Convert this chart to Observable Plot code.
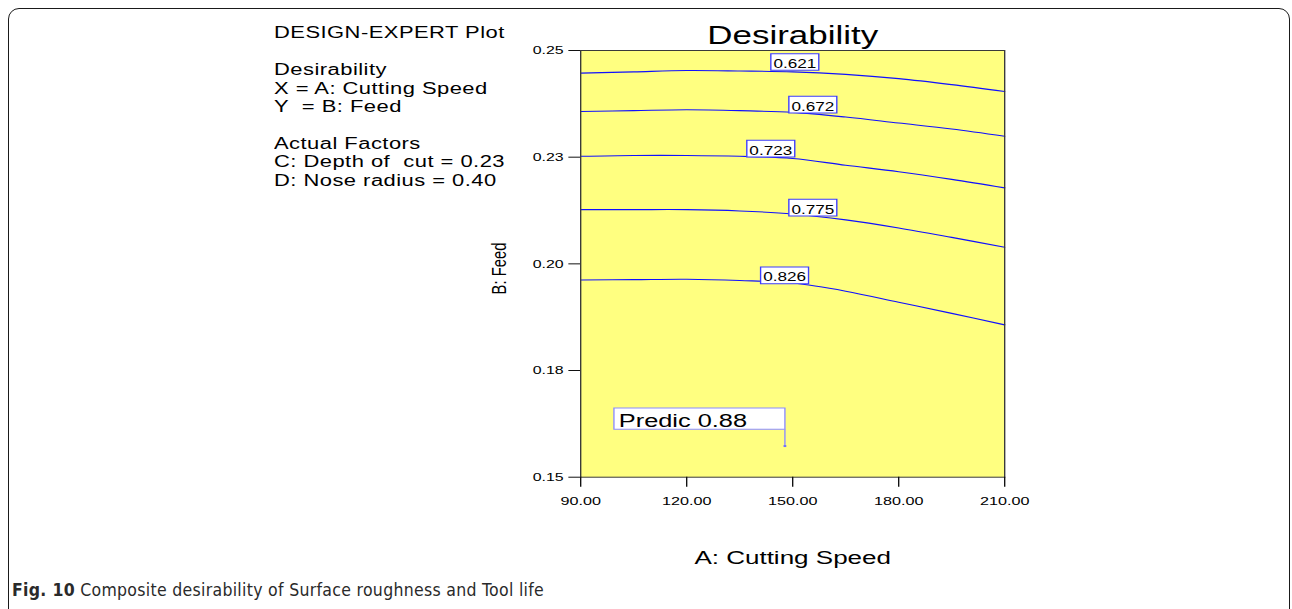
<!DOCTYPE html>
<html>
<head>
<meta charset="utf-8">
<script src="https://cdn.jsdelivr.net/npm/d3@7"></script>
<script src="https://cdn.jsdelivr.net/npm/@observablehq/plot@0.6"></script>
<style>
  html, body { margin: 0; padding: 0; background: #fff; width: 1292px; height: 609px; overflow: hidden; }
  #page { position: relative; width: 1292px; height: 609px; }
  #border { position: absolute; left: 8px; top: 8px; width: 1282px; height: 800px; box-sizing: border-box;
            border: 1.5px solid #1a1a1a; border-radius: 11px; }
  /* the Design-Expert panel is drawn with wide glyphs: stretch it horizontally */
  #stretch { position: absolute; left: 0; top: 0; width: 943px; height: 575px; transform: scaleX(1.37); transform-origin: 0 0; }
  #info { position: absolute; left: 200px; top: 24.4px; font: 16px/18.4px "Liberation Sans", Arial, sans-serif;
          letter-spacing: 0.35px; white-space: pre; color: #000; }
  #chart { position: absolute; left: 0; top: 0; }
  #caption { position: absolute; left: 12px; top: 580px; font: 17.5px/20px "Liberation Sans Narrow", "DejaVu Sans Condensed", sans-serif;
             font-stretch: condensed; letter-spacing: 0.3px; color: #2a2a2a; white-space: nowrap; }
  #caption b { font-weight: bold; }
</style>
</head>
<body>
<div id="page">
  <div id="border"></div>
  <div id="stretch">
    <div id="info"></div>
    <div id="chart"></div>
  </div>
  <div id="caption"></div>
</div>
<script>
// Axis ticks and their printed labels
const speedTicks = [90, 120, 150, 180, 210];
const speedTickLabels = ["90.00", "120.00", "150.00", "180.00", "210.00"];
const feedTicks = [0.15, 0.175, 0.2, 0.225, 0.25];
const feedTickLabels = ["0.15", "0.18", "0.20", "0.23", "0.25"];

// Contour levels of desirability and the traced curves (feed at each cutting speed)
const contourLevels = [0.621, 0.672, 0.723, 0.775, 0.826];
const contourSpeed = [90, 105, 120, 135, 150, 165, 180, 195, 210];
const feed0621 = [0.2447, 0.2450, 0.2453, 0.2452, 0.2450, 0.2444, 0.2434, 0.2420, 0.2404];
const feed0672 = [0.2357, 0.2359, 0.2361, 0.2359, 0.2355, 0.2344, 0.2330, 0.2316, 0.2299];
const feed0723 = [0.2252, 0.2254, 0.2254, 0.2252, 0.2247, 0.2231, 0.2216, 0.2198, 0.2178];
const feed0775 = [0.2127, 0.2127, 0.2127, 0.2124, 0.2117, 0.2103, 0.2084, 0.2062, 0.2039];
const feed0826 = [0.1962, 0.1963, 0.1964, 0.1961, 0.1955, 0.1936, 0.1910, 0.1884, 0.1857];

// Where each contour's value label sits
const labelSpeed = [150.6, 155.7, 143.8, 155.7, 147.7];
const labelFeed = [0.2473, 0.2373, 0.2270, 0.2132, 0.1973];

// Predicted optimum
const predSpeed = 147.8;
const predFeed = 0.1573;
const predValue = 0.88;

// Side notes
const infoLines = [
  "DESIGN-EXPERT Plot",
  "",
  "Desirability",
  "X = A: Cutting Speed",
  "Y  = B: Feed",
  "",
  "Actual Factors",
  "C: Depth of  cut = 0.23",
  "D: Nose radius = 0.40"
];
const titleText = "Desirability";
const xLabel = "A: Cutting Speed";
const yLabel = "B: Feed";
const captionBold = "Fig. 10";
const captionText = " Composite desirability of Surface roughness and Tool life";

// Tables for the marks
const contourFeeds = [feed0621, feed0672, feed0723, feed0775, feed0826];
const contours = contourLevels.flatMap((level, k) =>
  contourSpeed.map((speed, i) => ({level, speed, feed: contourFeeds[k][i]})));
const labels = contourLevels.map((level, k) => ({level, speed: labelSpeed[k], feed: labelFeed[k]}));
const pred = [{speed: predSpeed, feed: predFeed, value: predValue}];

// Custom symbols: fixed-size label boxes and the flag leader
const labelBox = {draw(ctx) { ctx.rect(-17.5, -8.35, 35, 16.7); }};
const predBox = {draw(ctx) { ctx.rect(-124.8, -38, 124.8, 21.3); }};
const predLeader = {draw(ctx) { ctx.moveTo(0, 0); ctx.lineTo(0, -16.7); }};
const predDot = {draw(ctx) { ctx.rect(-1, -1, 2, 2); }};

const font = '"Liberation Sans", Arial, sans-serif';

const chart = Plot.plot({
  width: 943,
  height: 575,
  marginLeft: 423.36,
  marginRight: 210.15,
  marginTop: 50,
  marginBottom: 98.3,
  x: {domain: [90, 210]},
  y: {domain: [0.15, 0.25]},
  style: {fontFamily: font, color: "#000", background: "transparent", overflow: "visible"},
  marks: [
    Plot.frame({fill: "#ffff80", stroke: null}),
    Plot.line(contours, {x: "speed", y: "feed", z: "level", stroke: "#1010ff", strokeWidth: 1.1, curve: "catmull-rom"}),
    Plot.dot(labels, {x: "speed", y: "feed", symbol: labelBox, fill: "#fff", stroke: "#3c3cff", strokeWidth: 1}),
    Plot.text(labels, {x: "speed", y: "feed", text: d => d.level.toFixed(3), fontSize: 12.5, dy: 2, fill: "#000"}),
    Plot.dot(pred, {x: "speed", y: "feed", symbol: predBox, fill: "#fff", stroke: "#8c8cff", strokeWidth: 1}),
    Plot.dot(pred, {x: "speed", y: "feed", symbol: predLeader, fill: "none", stroke: "#8c8cff", strokeWidth: 1}),
    Plot.dot(pred, {x: "speed", y: "feed", symbol: predDot, fill: "#7070ff", stroke: null}),
    Plot.text(pred, {x: "speed", y: "feed", text: d => `Predic ${d.value.toFixed(2)}`, textAnchor: "start",
                     dx: -121.2, dy: -24.9, fontSize: 18.5, fill: "#000"}),
    Plot.frame({stroke: "#3a3a3a", strokeWidth: 1}),
    Plot.axisX({ticks: speedTicks, tickFormat: d => speedTickLabels[speedTicks.indexOf(d)],
                tickSize: 10, tickPadding: 9, fontSize: 11.8, stroke: "#111", label: null}),
    Plot.axisY({ticks: feedTicks, tickFormat: d => feedTickLabels[feedTicks.indexOf(d)],
                tickSize: 8.5, tickPadding: 4, fontSize: 11.6, stroke: "#111", label: null}),
    Plot.text([titleText], {text: d => d, frameAnchor: "top", dy: -14.9, fontSize: 25.5, lineAnchor: "middle", fill: "#000"}),
    Plot.text([xLabel], {text: d => d, frameAnchor: "bottom", dy: 80.8, fontSize: 19, lineAnchor: "middle", fill: "#000"}),
    Plot.text([yLabel], {text: d => d, frameAnchor: "left", textAnchor: "middle", dx: -59.5, dy: 4.7, rotate: -90,
                         fontSize: 14.8, lineAnchor: "middle", fill: "#000"})
  ]
});
document.getElementById("chart").append(chart);

document.getElementById("info").textContent = infoLines.join("\n");

const cap = document.getElementById("caption");
const b = document.createElement("b");
b.textContent = captionBold;
cap.append(b, document.createTextNode(captionText));
</script>
</body>
</html>
